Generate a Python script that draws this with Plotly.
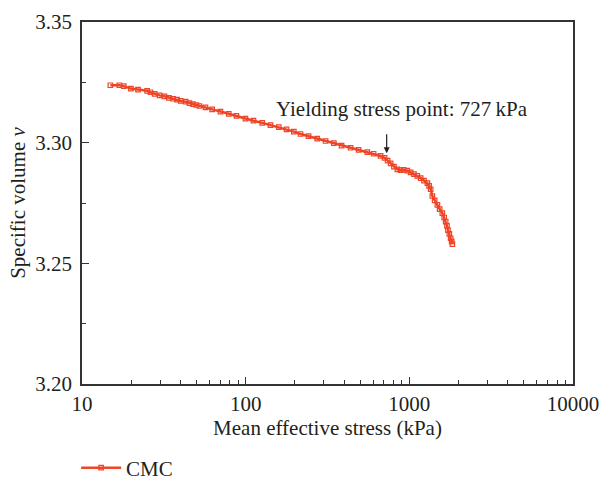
import numpy as np
import plotly.graph_objects as go

# Mean effective stress (kPa) and specific volume v
stress_kpa = [14.9, 16.9, 18.0, 19.9, 22.0, 25.0, 26.2, 27.8, 29.8, 31.9, 34.0, 36.0, 38.1, 40.1,
              43.0, 45.3, 47.7, 50.0, 52.2, 56.8, 62.4, 70.1, 78.8, 87.8, 99.7, 111.6, 126.2,
              141.8, 159.4, 177.7, 196.9, 216.3, 242.2, 273.7, 307.7, 345.7, 385.4, 437.5,
              489.7, 553.5, 604.8, 667.5, 706.3, 736.9, 768.7, 805.3, 844.8, 884.9, 922.9,
              972.2, 1018.6, 1067, 1119, 1173, 1229, 1289, 1322, 1350, 1383, 1428, 1484, 1532,
              1591, 1632, 1667, 1698, 1722, 1756, 1789, 1814, 1832]
specific_volume = [3.3238, 3.3238, 3.3234, 3.3224, 3.3220, 3.3215, 3.3209, 3.3202, 3.3196, 3.3192,
                   3.3186, 3.3182, 3.3178, 3.3173, 3.3170, 3.3164, 3.3160, 3.3156, 3.3152, 3.3146,
                   3.3138, 3.3129, 3.3119, 3.3111, 3.3100, 3.3091, 3.3082, 3.3073, 3.3064, 3.3055,
                   3.3046, 3.3036, 3.3027, 3.3017, 3.3007, 3.2998, 3.2988, 3.2979, 3.2970, 3.2961,
                   3.2954, 3.2945, 3.2937, 3.2926, 3.2914, 3.2901, 3.2889, 3.2886, 3.2887, 3.2884,
                   3.2877, 3.2870, 3.2862, 3.2853, 3.2843, 3.2832, 3.2821, 3.2807, 3.2779, 3.2761,
                   3.2742, 3.2725, 3.2708, 3.2690, 3.2673, 3.2655, 3.2638, 3.2622, 3.2604, 3.2591,
                   3.2580]
series_name = "CMC"

x_tick_vals = [10, 100, 1000, 10000]
x_tick_text = ["10", "100", "1000", "10000"]
y_tick_vals = [3.20, 3.25, 3.30, 3.35]

yield_stress = 727
arrow_tail_v = 3.3041
arrow_tip_v = 3.2956
label_x = 897
label_v = 3.3140

red = "#EF4426"
txt = "#231F20"
font_family = "Liberation Serif"
fs = 21

fig = go.Figure()
fig.add_trace(go.Scatter(
    x=stress_kpa, y=specific_volume, mode="lines+markers", name=series_name,
    line=dict(color=red, width=2.5),
    marker=dict(symbol="square-open", size=4.5, color=red, line=dict(color=red, width=1.2)),
))

fig.add_annotation(x=np.log10(yield_stress), y=arrow_tip_v, ax=np.log10(yield_stress), ay=arrow_tail_v,
                   xref="x", yref="y", axref="x", ayref="y", text="", showarrow=True,
                   arrowhead=2, arrowsize=1, arrowwidth=1.2, arrowcolor=txt, standoff=0, startstandoff=0)
fig.add_annotation(x=np.log10(label_x), y=label_v, xref="x", yref="y",
                   text="Yielding stress point: 727\u2009kPa", showarrow=False,
                   font=dict(size=fs, color=txt, family=font_family), xanchor="center", yanchor="middle")

fig.update_layout(
    width=600, height=482,
    margin=dict(l=82, r=27, t=22, b=98, autoexpand=False),
    paper_bgcolor="white", plot_bgcolor="white",
    font=dict(family=font_family, size=fs, color=txt),
    showlegend=True,
    legend=dict(orientation="h", x=-0.012, xanchor="left", y=-0.232, yanchor="middle", itemwidth=40,
                font=dict(size=fs, color=txt, family=font_family), bgcolor="rgba(0,0,0,0)"),
    xaxis=dict(type="log", range=[1, 4], tickvals=x_tick_vals, ticktext=x_tick_text, automargin=False,
               ticks="inside", ticklen=7, tickwidth=1.3, tickcolor="#333",
               showline=True, linecolor="#333", linewidth=1.5, mirror=True,
               showgrid=False, zeroline=False,
               minor=dict(ticks="inside", ticklen=4, tickwidth=1.1, tickcolor="#333", dtick="D1", showgrid=False),
               title=dict(text="Mean effective stress (kPa)", font=dict(size=fs, color=txt), standoff=4),
               tickfont=dict(size=fs, color=txt)),
    yaxis=dict(range=[3.20, 3.35], tickvals=y_tick_vals, tickformat=".2f", automargin=False,
               ticks="inside", ticklen=7, tickwidth=1.3, tickcolor="#333", ticklabelstandoff=4,
               showline=True, linecolor="#333", linewidth=1.5, mirror=True,
               showgrid=False, zeroline=False,
               minor=dict(ticks="inside", ticklen=4, tickwidth=1.1, tickcolor="#333", dtick=0.025, showgrid=False),
               title=dict(text="Specific volume <i>v</i>", font=dict(size=fs, color=txt), standoff=4),
               tickfont=dict(size=fs, color=txt)),
)

fig.write_html("out.html")
